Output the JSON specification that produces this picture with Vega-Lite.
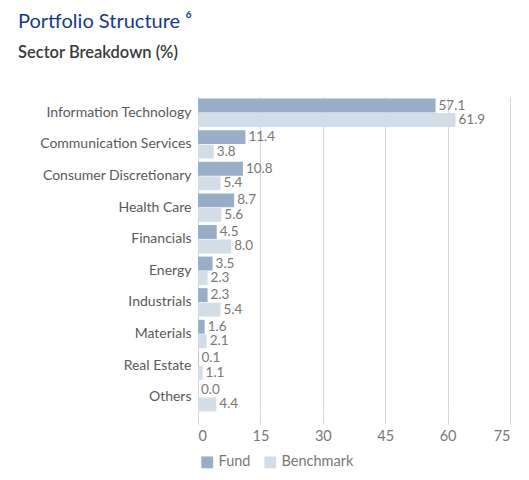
{
  "$schema": "https://vega.github.io/schema/vega-lite/v6.json",
  "width": 312,
  "height": 316,
  "autosize": "none",
  "padding": {"left": 198, "top": 97, "right": 19, "bottom": 67},
  "background": "white",
  "config": {
    "view": {"stroke": null},
    "font": "Lato"
  },
  "title": {
    "text": "Portfolio Structure ⁶",
    "subtitle": "Sector Breakdown (%)",
    "anchor": "start",
    "frame": "group",
    "dx": -180,
    "offset": 36,
    "fontSize": 20,
    "fontWeight": "normal",
    "color": "#163a8a",
    "subtitleFontSize": 16.5,
    "subtitleFontWeight": 600,
    "subtitleColor": "#3a3a3a",
    "subtitlePadding": 13
  },
  "data": {
    "values": [
      {"sector": "Information Technology", "series": "Fund", "value": 57.1},
      {"sector": "Information Technology", "series": "Benchmark", "value": 61.9},
      {"sector": "Communication Services", "series": "Fund", "value": 11.4},
      {"sector": "Communication Services", "series": "Benchmark", "value": 3.8},
      {"sector": "Consumer Discretionary", "series": "Fund", "value": 10.8},
      {"sector": "Consumer Discretionary", "series": "Benchmark", "value": 5.4},
      {"sector": "Health Care", "series": "Fund", "value": 8.7},
      {"sector": "Health Care", "series": "Benchmark", "value": 5.6},
      {"sector": "Financials", "series": "Fund", "value": 4.5},
      {"sector": "Financials", "series": "Benchmark", "value": 8.0},
      {"sector": "Energy", "series": "Fund", "value": 3.5},
      {"sector": "Energy", "series": "Benchmark", "value": 2.3},
      {"sector": "Industrials", "series": "Fund", "value": 2.3},
      {"sector": "Industrials", "series": "Benchmark", "value": 5.4},
      {"sector": "Materials", "series": "Fund", "value": 1.6},
      {"sector": "Materials", "series": "Benchmark", "value": 2.1},
      {"sector": "Real Estate", "series": "Fund", "value": 0.1},
      {"sector": "Real Estate", "series": "Benchmark", "value": 1.1},
      {"sector": "Others", "series": "Fund", "value": 0.0},
      {"sector": "Others", "series": "Benchmark", "value": 4.4}
    ]
  },
  "encoding": {
    "y": {
      "field": "sector",
      "type": "nominal",
      "sort": null,
      "title": null,
      "scale": {"paddingInner": 0.1, "paddingOuter": 0.05},
      "axis": {
        "domain": false,
        "ticks": false,
        "labelFontSize": 14,
        "labelColor": "#595959",
        "labelPadding": 7
      }
    },
    "yOffset": {
      "field": "series",
      "type": "nominal",
      "sort": ["Fund", "Benchmark"],
      "scale": {"paddingInner": 0.04}
    },
    "x": {
      "field": "value",
      "type": "quantitative",
      "title": null,
      "scale": {"domain": [0, 75]},
      "axis": {
        "values": [0, 15, 30, 45, 60, 75],
        "domain": false,
        "grid": true,
        "gridColor": "#d6d6d6",
        "tickColor": "#d6d6d6",
        "tickSize": 11,
        "labelFontSize": 14.5,
        "labelColor": "#777777",
        "labelPadding": 5
      }
    }
  },
  "layer": [
    {
      "mark": {"type": "bar"},
      "encoding": {
        "color": {
          "field": "series",
          "type": "nominal",
          "title": null,
          "scale": {"domain": ["Fund", "Benchmark"], "range": ["#97adc8", "#d3dde8"]},
          "legend": {
            "orient": "none",
            "legendX": 2,
            "legendY": 358,
            "direction": "horizontal",
            "symbolType": "square",
            "symbolSize": 140,
            "symbolStrokeWidth": 0,
            "labelFontSize": 14.5,
            "labelColor": "#777777",
            "columnPadding": 12
          }
        }
      }
    },
    {
      "mark": {"type": "text", "align": "left", "dx": 3, "fontSize": 13.5, "color": "#777777"},
      "encoding": {
        "text": {"field": "value", "type": "quantitative", "format": ".1f"}
      }
    }
  ]
}
